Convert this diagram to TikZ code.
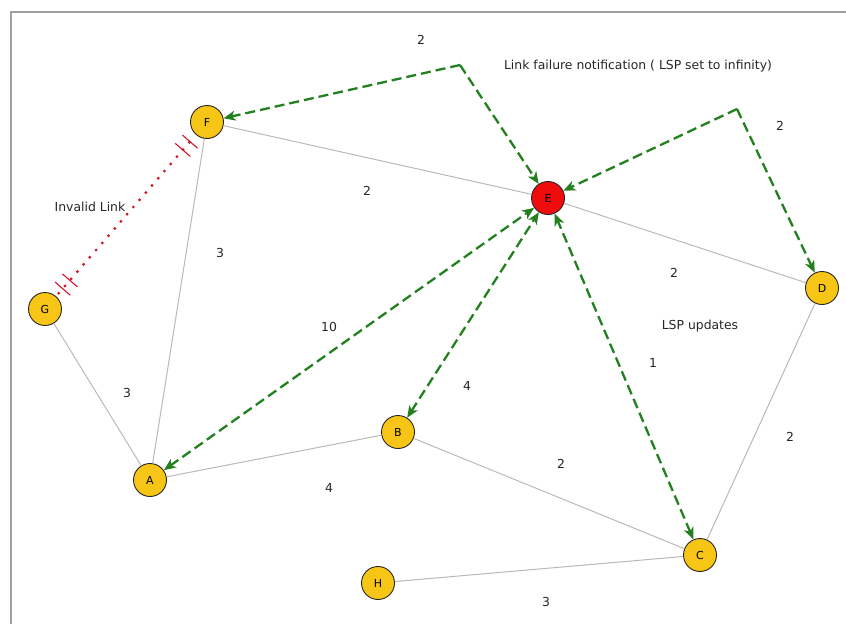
\documentclass[tikz,border=0pt]{standalone}
\usepackage{fontspec}
\setmainfont{DejaVu Sans}
\usetikzlibrary{arrows.meta,decorations.markings}
\definecolor{routeryellow}{RGB}{247,197,22}
\definecolor{routerred}{RGB}{238,12,12}
\definecolor{lspgreen}{RGB}{34,128,30}
\definecolor{badlink}{RGB}{214,20,40}
\begin{document}
\begin{tikzpicture}[x=1pt,y=-1pt,
    router/.style={circle,draw=black!85,line width=0.9pt,fill=routeryellow,
      minimum size=33pt,inner sep=0pt,font=\fontsize{11}{11}\selectfont},
    link/.style={draw=gray!55,line width=1pt},
    lsp/.style={draw=lspgreen,line width=2.3pt,dash pattern=on 10pt off 5pt,
      arrows={-Stealth[length=12pt,width=10pt,inset=3.5pt]}},
    lsp2/.style={lsp,arrows={Stealth[length=12pt,width=10pt,inset=3.5pt]-Stealth[length=12pt,width=10pt,inset=3.5pt]}},
    wt/.style={font=\fontsize{12.4}{14}\selectfont,text=black!85},
    tick/.style={decoration={markings,
      mark=at position 10pt with {\draw[badlink,line width=1.1pt,solid] (0,-10pt)--(0,10pt);},
      mark=at position 21pt with {\draw[badlink,line width=1.1pt,solid] (0,-10pt)--(0,10pt);},
      mark=at position -9pt with {\draw[badlink,line width=1.1pt,solid] (0,-10pt)--(0,10pt);},
      mark=at position -20pt with {\draw[badlink,line width=1.1pt,solid] (0,-10pt)--(0,10pt);}},
      postaction=decorate}]
  \useasboundingbox (0,0) rectangle (846,624);
  \draw[gray!75,line width=2pt] (11,624) -- (11,12) -- (846,12);

  \node[router] (F) at (207,122) {F};
  \node[router,fill=routerred] (E) at (548,198) {E};
  \node[router] (G) at (45,309) {G};
  \node[router] (D) at (822,288) {D};
  \node[router] (B) at (398,432) {B};
  \node[router] (A) at (150,480) {A};
  \node[router] (C) at (700,555) {C};
  \node[router] (H) at (378,583) {H};

  \draw[link] (F) -- (E);
  \draw[link] (F) -- (A);
  \draw[link] (G) -- (A);
  \draw[link] (A) -- (B);
  \draw[link] (B) -- (C);
  \draw[link] (H) -- (C);
  \draw[link] (C) -- (D);
  \draw[link] (E) -- (D);

  \path[tick] (G) -- (F);
  \draw[badlink,line width=3.2pt,line cap=round,dash pattern=on 0pt off 9.5pt,
    shorten <=4pt,shorten >=4pt] (G) -- (F);

  \coordinate (p1) at (460,65);
  \coordinate (p2) at (737,109);
  \draw[lsp] (p1) -- (F);
  \draw[lsp] (p1) -- (E);
  \draw[lsp] (p2) -- (E);
  \draw[lsp] (p2) -- (D);
  \draw[lsp2] (A) -- (E);
  \draw[lsp2] (B) -- (E);
  \draw[lsp2] (C) -- (E);

  \node[wt] (w1) at (421,40) {2};
  \node[wt] (w2) at (780,126) {2};
  \node[wt] (w3) at (367,191) {2};
  \node[wt] (w4) at (220,253) {3};
  \node[wt] (w5) at (127,393) {3};
  \node[wt] (w6) at (329,327) {10};
  \node[wt] (w7) at (467,386) {4};
  \node[wt] (w8) at (329,488) {4};
  \node[wt] (w9) at (561,464) {2};
  \node[wt] (w10) at (546,602) {3};
  \node[wt] (w11) at (653,363) {1};
  \node[wt] (w12) at (790,437) {2};
  \node[wt] (w13) at (674,273) {2};

  \node[wt] (notice) at (638,66) {Link failure notification ( LSP set to infinity)};
  \node[wt] (invalid) at (90,207) {Invalid Link};
  \node[wt] (updates) at (700,326) {LSP updates};
\end{tikzpicture}
\end{document}
